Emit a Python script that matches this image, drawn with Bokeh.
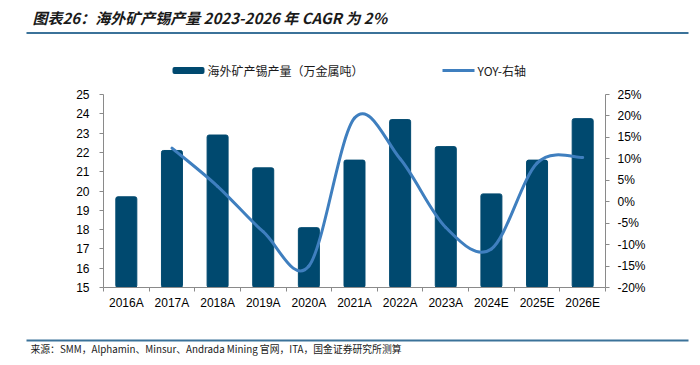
from bokeh.plotting import figure
from bokeh.layouts import column
from bokeh.models import Range1d, LinearAxis, FixedTicker, PrintfTickFormatter
from bokeh.core.properties import value
from bokeh.embed import file_html
from bokeh.resources import INLINE

# ---- data ----
categories = ["2016A", "2017A", "2018A", "2019A", "2020A", "2021A",
              "2022A", "2023A", "2024E", "2025E", "2026E"]
production = [19.7, 22.1, 22.9, 21.2, 18.1, 21.6, 23.7, 22.3, 19.85, 21.6, 23.75]
yoy_categories = categories[1:]
yoy = [12.5, 3.6, -7.0, -15.0, 19.5, 10.0, -6.0, -11.0, 9.0, 10.3]
left_ticks = list(range(15, 26))
right_ticks = list(range(-20, 30, 5))

title_text = "图表26：海外矿产锡产量 2023-2026 年 CAGR 为 2%"
source_text = "来源：SMM，Alphamin、Minsur、Andrada Mining 官网，ITA，国金证券研究所测算"
bar_label = "海外矿产锡产量（万金属吨）"
line_label = "YOY-右轴"

BAR_COLOR = "#00496f"
LINE_COLOR = "#3f7fbf"
AXIS_COLOR = "#8a8a8a"
RULE_COLOR = "#3b7299"
TEXT_COLOR = "#1a1a1a"
FONT = "Liberation Sans"
CJK = "Noto Sans CJK SC"

W = 690
HEADER_H = 84
FOOTER_H = 44


def blank(height):
    f = figure(width=W, height=height, output_backend="svg", toolbar_location=None,
               x_range=Range1d(0, W), y_range=Range1d(height, 0),
               x_axis_location=None, y_axis_location=None,
               min_border=0, outline_line_color=None, frame_align=False)
    f.xgrid.visible = False
    f.ygrid.visible = False
    return f


# ---- header: title, rule, legend ----
h = blank(HEADER_H)
h.text(x=[32], y=[17], text=[title_text], text_font=value(CJK),
       text_font_size="15px", text_font_style="bold italic",
       text_color=TEXT_COLOR, text_baseline="middle")
h.segment(x0=[26], y0=[32.5], x1=[688], y1=[32.5], line_color=RULE_COLOR, line_width=2)
h.quad(left=[172], right=[204], top=[66.5], bottom=[73.5], fill_color=BAR_COLOR,
       line_color=None, border_radius=2)
h.text(x=[207], y=[70], text=[bar_label], text_font=value(CJK), text_font_size="12px",
       text_color=TEXT_COLOR, text_baseline="middle")
h.segment(x0=[442], y0=[70], x1=[474], y1=[70], line_color=LINE_COLOR, line_width=3)
h.text(x=[477], y=[70], text=[line_label], text_font=value(CJK), text_font_size="12px",
       text_color=TEXT_COLOR, text_baseline="middle")

# ---- main chart ----
n = len(categories)
xpos = [categories.index(c) + 0.5 for c in categories]

p = figure(width=W, height=235, output_backend="svg", toolbar_location=None,
           x_range=Range1d(0, n), y_range=Range1d(15, 25),
           min_border_left=103, min_border_right=85, min_border_top=10,
           min_border_bottom=32, outline_line_color=None, frame_align=False)
p.xgrid.visible = False
p.ygrid.visible = False
p.extra_y_ranges = {"yoy": Range1d(-20, 25)}

p.vbar(x=xpos, top=production, bottom=15, width=0.46, color=BAR_COLOR,
       border_radius=2)

# smoothed YOY line: bezier segments passing through each data point
ypos = [categories.index(c) + 0.5 for c in yoy_categories]
pts = list(zip(ypos, yoy))
x0, y0, x1, y1, cx0, cy0, cx1, cy1 = [], [], [], [], [], [], [], []
m = len(pts)
for i in range(m - 1):
    pa = pts[i - 1] if i > 0 else pts[i]
    pb = pts[i]
    pc = pts[i + 1]
    pd = pts[i + 2] if i + 2 < m else pts[i + 1]
    x0.append(pb[0]); y0.append(pb[1])
    x1.append(pc[0]); y1.append(pc[1])
    cx0.append(pb[0] + (pc[0] - pa[0]) / 6); cy0.append(pb[1] + (pc[1] - pa[1]) / 6)
    cx1.append(pc[0] - (pd[0] - pb[0]) / 6); cy1.append(pc[1] - (pd[1] - pb[1]) / 6)
p.bezier(x0=x0, y0=y0, x1=x1, y1=y1, cx0=cx0, cy0=cy0, cx1=cx1, cy1=cy1,
         y_range_name="yoy", line_color=LINE_COLOR, line_width=3, line_cap="round")

xa = p.xaxis[0]
xa.ticker = FixedTicker(ticks=xpos, minor_ticks=[i for i in range(n + 1)])
xa.major_label_overrides = {x: c for x, c in zip(xpos, categories)}
xa.major_tick_line_color = None
xa.major_tick_out = 4
xa.minor_tick_in = 0
xa.minor_tick_out = 4
xa.minor_tick_line_color = AXIS_COLOR
xa.axis_line_color = AXIS_COLOR
xa.major_label_standoff = 4
xa.major_label_text_font = FONT
xa.major_label_text_font_size = "12px"
xa.major_label_text_color = "#000000"

ya = p.yaxis[0]
ya.ticker = FixedTicker(ticks=left_ticks)
ya.minor_tick_line_color = None
ya.major_tick_in = 0
ya.major_tick_out = 4
ya.major_tick_line_color = AXIS_COLOR
ya.axis_line_color = AXIS_COLOR
ya.major_label_standoff = 10
ya.major_label_text_font = FONT
ya.major_label_text_font_size = "12px"
ya.major_label_text_color = "#000000"

ra = LinearAxis(y_range_name="yoy", ticker=FixedTicker(ticks=right_ticks),
                formatter=PrintfTickFormatter(format="%d%%"))
ra.minor_tick_line_color = None
ra.major_tick_in = 0
ra.major_tick_out = 4
ra.major_tick_line_color = AXIS_COLOR
ra.axis_line_color = AXIS_COLOR
ra.major_label_standoff = 8
ra.major_label_text_font = FONT
ra.major_label_text_font_size = "12px"
ra.major_label_text_color = "#000000"
p.add_layout(ra, "right")

# ---- footer: rule and source ----
f = blank(FOOTER_H)
f.segment(x0=[26], y0=[21], x1=[688], y1=[21], line_color=RULE_COLOR, line_width=2)
f.text(x=[30], y=[29.5], text=[source_text], text_font=value(CJK),
       text_font_size="9.8px", text_color=TEXT_COLOR, text_baseline="middle")

layout = column(h, p, f, spacing=0)
open("out.html", "w").write(file_html(layout, INLINE))
